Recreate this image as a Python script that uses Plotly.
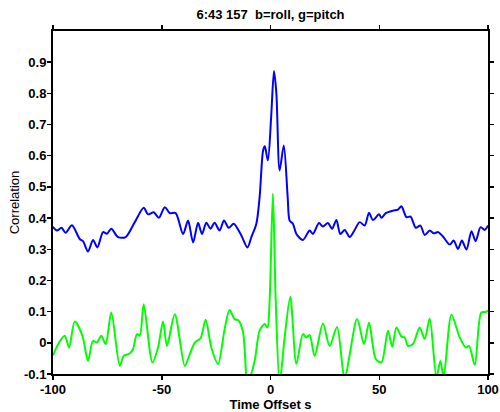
import plotly.graph_objects as go

title_text = "6:43 157\u00a0 b=roll, g=pitch"
x_label = "Time Offset s"
y_label = "Correlation"

x_ticks = [-100, -50, 0, 50, 100]
y_ticks = [-0.1, 0, 0.1, 0.2, 0.3, 0.4, 0.5, 0.6, 0.7, 0.8, 0.9]
y_ticktext = ["-0.1", "0", "0.1", "0.2", "0.3", "0.4", "0.5", "0.6", "0.7", "0.8", "0.9"]

roll_x = [-100, -98.2, -96.1, -94.2, -91.3, -87.7, -86.2, -83.9, -81.6, -79.6, -77.0, -75.2,
          -73.2, -70.1, -66.6, -62.4, -58.3, -56.3, -53.7, -51.3, -48.6, -46.3, -43.6, -40.2,
          -37.9, -35.6, -33.3, -31.5, -29.5, -27.6, -25.7, -23.4, -21.4, -19.2, -16.9, -13.4,
          -10.6, -8.8, -6.5, -5.0, -3.4, -2.6, -1.2, 0.3, 1.6, 2.7, 4.2, 6.1, 7.9, 8.8,
          10.3, 11.9, 14.9, 18.0, 19.5, 22.3, 24.1, 26.4, 28.3, 30.3, 32.1, 34.1, 36.4, 38.7,
          41.0, 43.3, 45.3, 47.1, 49.9, 51.0, 53.0, 56.3, 58.6, 60.2, 62.5, 64.4, 66.8, 68.9,
          70.9, 73.2, 75.1, 77.0, 79.3, 82.4, 84.2, 86.2, 88.0, 90.1, 92.4, 94.3, 96.6, 98.5, 100]
roll_y = [0.372, 0.36, 0.369, 0.353, 0.377, 0.333, 0.326, 0.293, 0.330, 0.306, 0.355, 0.35,
          0.366, 0.339, 0.339, 0.387, 0.433, 0.412, 0.419, 0.401, 0.435, 0.416, 0.416, 0.349,
          0.392, 0.322, 0.385, 0.349, 0.385, 0.366, 0.385, 0.36, 0.392, 0.369, 0.382, 0.344,
          0.306, 0.339, 0.382, 0.467, 0.617, 0.630, 0.585, 0.724, 0.872, 0.80, 0.553, 0.633, 0.467, 0.392,
          0.382, 0.349, 0.330, 0.36, 0.349, 0.384, 0.373, 0.384, 0.366, 0.394, 0.349, 0.362, 0.339, 0.362,
          0.387, 0.376, 0.417, 0.394, 0.412, 0.401, 0.416, 0.424, 0.427, 0.438, 0.403, 0.405, 0.369, 0.376,
          0.346, 0.36, 0.351, 0.355, 0.341, 0.315, 0.328, 0.301, 0.328, 0.299, 0.358, 0.326, 0.371, 0.362, 0.376]

pitch_x = [-100, -97.2, -94.6, -92.6, -90.0, -86.5, -83.9, -81.6, -79.8, -77.8, -75.8, -73.2,
           -69.3, -67.5, -64.7, -63.2, -61.4, -60.1, -58.3, -54.3, -51.7, -49.4, -47.6, -44.0,
           -39.4, -37.1, -34.8, -32.2, -29.8, -27.2, -24.1, -21.1, -18.8, -16.5, -14.6, -12.6,
           -10.5, -7.3, -5.0, -2.7, -1.4, -0.4, 1.1, 2.4, 4.2, 6.5, 9.1, 11.9, 14.9, 16.5,
           18.0, 20.3, 24.1, 27.2, 30.6, 34.1, 39.8, 43.0, 45.3, 48.4, 51.0, 54.0, 56.0, 57.9,
           60.2, 61.7, 63.2, 65.5, 68.6, 70.9, 73.2, 76.3, 78.1, 79.6, 83.2, 87.0, 89.8, 91.3,
           93.9, 96.9, 98.9, 100]
pitch_y = [-0.04, 0.001, 0.023, -0.015, 0.068, 0.023, -0.058, 0.006, 0.001, 0.023, -0.004, 0.097,
           -0.074, -0.042, -0.034, -0.02, 0.028, 0.023, 0.124, -0.063, -0.015, 0.068, -0.01, 0.092,
           -0.074, -0.036, 0.001, 0.014, 0.074, -0.015, -0.068, 0.044, 0.105, 0.076, 0.071, 0.033,
           -0.13, -0.058, 0.039, 0.06, 0.049, 0.135, 0.478, 0.135, -0.13, 0.017, 0.148, -0.068, 0.028, 0.017,
           0.025, -0.042, 0.062, -0.01, 0.051, -0.11, 0.076, -0.004, 0.065, -0.052, -0.063, 0.039, -0.013, 0.049,
           0.02, 0.017, -0.01, -0.004, 0.049, 0.012, 0.078, -0.11, -0.058, -0.11, 0.09, 0.017, -0.015, -0.01,
           -0.071, 0.097, 0.099, 0.103]

font_family = "Liberation Sans, Arial, sans-serif"

fig = go.Figure()
fig.add_trace(go.Scatter(x=roll_x, y=roll_y, mode="lines",
                         line=dict(color="#0000ff", width=2, shape="spline", smoothing=0.8),
                         name="roll", showlegend=False, hoverinfo="skip"))
fig.add_trace(go.Scatter(x=pitch_x, y=pitch_y, mode="lines",
                         line=dict(color="#00ff00", width=2, shape="spline", smoothing=0.8),
                         name="pitch", showlegend=False, hoverinfo="skip"))

fig.update_layout(
    width=500, height=412,
    paper_bgcolor="white", plot_bgcolor="white",
    margin=dict(l=53, r=12, t=31, b=38, autoexpand=False),
    title=dict(text=title_text, x=0.541, xanchor="center", y=0.964, yanchor="middle",
               automargin=False,
               font=dict(family=font_family, size=13, color="black", weight="bold")),
    font=dict(family=font_family, size=13, color="black"),
)
fig.update_xaxes(
    range=[-100, 100], tickvals=x_ticks, ticktext=[str(v) for v in x_ticks],
    ticks="outside", ticklen=4, tickwidth=1.5, tickcolor="black",
    showline=True, linecolor="black", linewidth=2, mirror="ticks",
    showgrid=False, zeroline=False, automargin=False, ticklabelstandoff=-2,
    tickfont=dict(family=font_family, size=13, color="black", weight="bold"),
    title=dict(text=x_label, standoff=1,
               font=dict(family=font_family, size=13, color="black", weight="bold")),
)
fig.update_yaxes(
    range=[-0.1, 1.0], tickvals=y_ticks, ticktext=y_ticktext,
    ticks="outside", ticklen=4, tickwidth=1.5, tickcolor="black",
    showline=True, linecolor="black", linewidth=2, mirror="ticks",
    showgrid=False, zeroline=False, automargin=False, ticklabelstandoff=-2,
    tickfont=dict(family=font_family, size=13, color="black", weight="bold"),
    title=dict(text=y_label, standoff=1,
               font=dict(family=font_family, size=13, color="black")),
)

fig.write_html("out.html",
               config={"displayModeBar": False, "staticPlot": True},
               post_script="document.body.style.margin='0px';document.body.style.padding='0px';")
